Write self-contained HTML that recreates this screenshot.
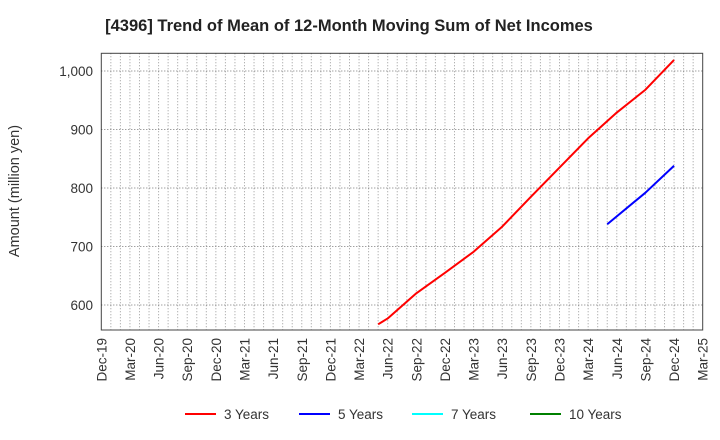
<!DOCTYPE html>
<html><head><meta charset="utf-8"><style>
body{margin:0;background:#fff;}
svg{display:block;font-family:"Liberation Sans",sans-serif;}
</style></head><body>
<svg id="chart" width="720" height="440">
<text x="349" y="31" text-anchor="middle" font-size="16.5" font-weight="bold" fill="#222">[4396]  Trend of Mean of 12-Month Moving Sum of Net Incomes</text>
<text transform="translate(19,191) rotate(-90)" text-anchor="middle" font-size="14.5" fill="#333">Amount (million yen)</text>
<g id="grid"></g>
<g id="yticks"></g>
<g id="xticks"></g>
<g id="series"></g>
<rect x="101.3" y="53.3" width="601.4" height="276.7" fill="none" stroke="#444" stroke-width="1"/>
<g id="legend"></g>
</svg>
<script>
const xLabels=["Dec-19","Mar-20","Jun-20","Sep-20","Dec-20","Mar-21","Jun-21","Sep-21","Dec-21","Mar-22","Jun-22","Sep-22","Dec-22","Mar-23","Jun-23","Sep-23","Dec-23","Mar-24","Jun-24","Sep-24","Dec-24","Mar-25"];
const yTicks=[600,700,800,900,1000];
const yTickLabels=["600","700","800","900","1,000"];
// months since Dec-19
const red3Months=[29,30,33,36,39,42,45,48,51,54,57,60];
const red3Values=[567,577,620,655,691,734,785,835,885,929,968,1019];
const blue5Months=[53,57,60];
const blue5Values=[738,792,838];
const legendLabels=["3 Years","5 Years","7 Years","10 Years"];
const legendColors=["#ff0000","#0000ff","#00ffff","#008000"];

const NS="http://www.w3.org/2000/svg";
const L=101.3,R=702.7,T=53.3,B=330;
function xScale(m){return L+m*(R-L)/63;}
function yScale(v){return 305-(v-600)*0.585;}
function mk(tag,attrs,parent){const e=document.createElementNS(NS,tag);for(const k in attrs)e.setAttribute(k,attrs[k]);parent.appendChild(e);return e;}
const grid=document.getElementById('grid');
for(let m=1;m<63;m++){
  const l=mk('line',{x1:xScale(m),x2:xScale(m),y1:T,y2:B,stroke:'#999','stroke-width':1,'stroke-dasharray':'1,2'},grid);
  
  
}
const yt=document.getElementById('yticks');
yTicks.forEach((v,i)=>{
  const l=mk('line',{x1:L,x2:R,y1:yScale(v),y2:yScale(v),stroke:'#777','stroke-width':1,'stroke-dasharray':'1,2'},grid);
  
  
  const t=mk('text',{x:93,y:yScale(v)+5,'text-anchor':'end','font-size':13.5,fill:'#333'},yt);
  t.textContent=yTickLabels[i];
  
  
});
const xt=document.getElementById('xticks');
xLabels.forEach((s,i)=>{
  const x=xScale(i*3);
  const t=mk('text',{transform:`translate(${x+5},338) rotate(-90)`,'text-anchor':'end','font-size':13.5,fill:'#333'},xt);
  t.textContent=s;
  
  
});
const ser=document.getElementById('series');
function line(ms,vs,c,name){
  const p=mk('polyline',{points:ms.map((m,i)=>xScale(m)+','+yScale(vs[i])).join(' '),fill:'none',stroke:c,'stroke-width':2,'stroke-linejoin':'round'},ser);
  
  
}
line(red3Months,red3Values,'#ff0000','series-3-years');
line(blue5Months,blue5Values,'#0000ff','series-5-years');
const lg=document.getElementById('legend');
const lx=[185,299,412,530];
legendLabels.forEach((s,i)=>{
  const g=mk('g',{},lg);
  
  
  mk('line',{x1:lx[i],x2:lx[i]+31,y1:414,y2:414,stroke:legendColors[i],'stroke-width':2},g);
  const t=mk('text',{x:lx[i]+39,y:419,'font-size':13.5,fill:'#333'},g);
  t.textContent=s;
});
</script>
</body></html>
